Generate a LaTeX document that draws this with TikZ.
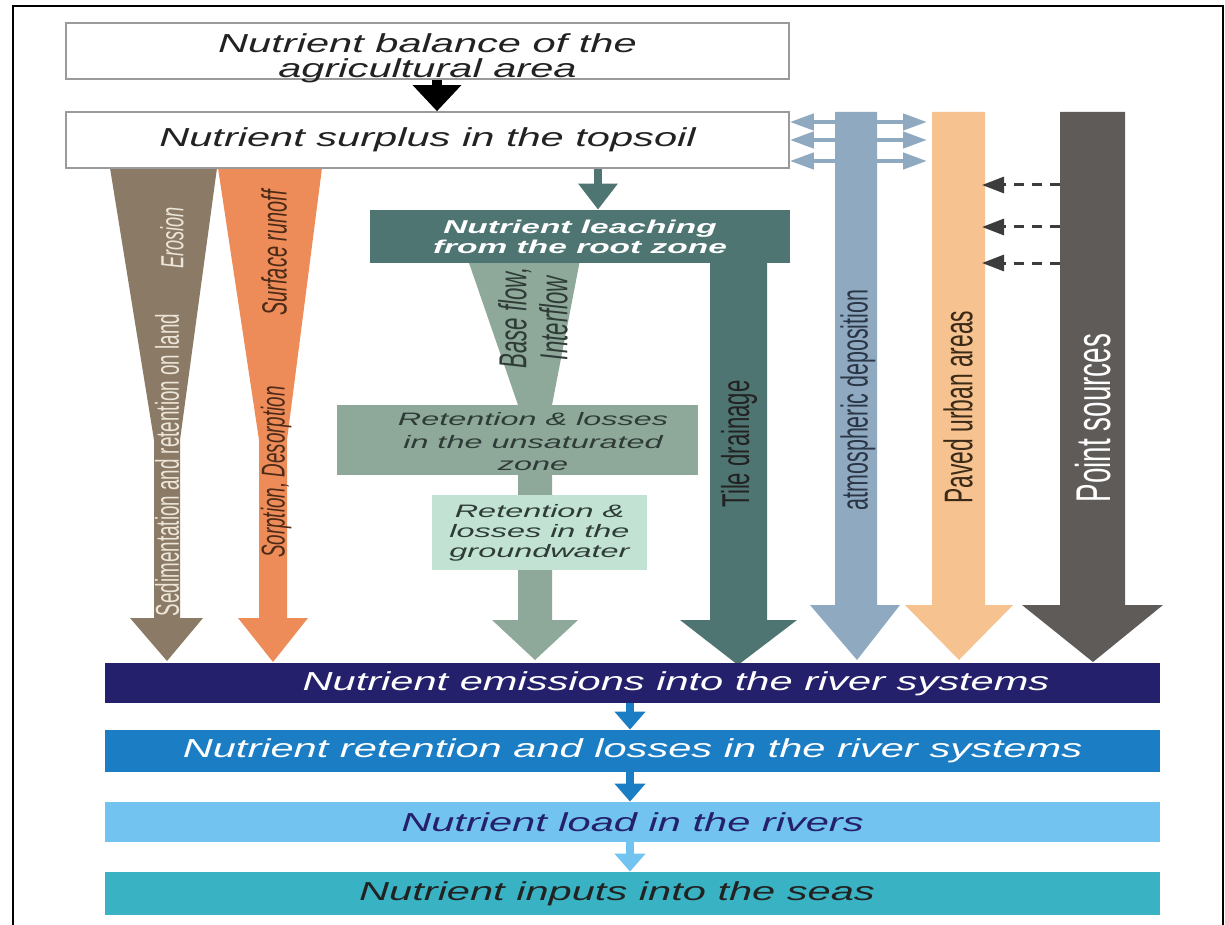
\documentclass[tikz,border=0pt]{standalone}
\usepackage{fontspec}
\setmainfont{Liberation Sans}
\newfontfamily\boxfont[FakeStretch=1.6]{Liberation Sans}
\newfontfamily\midfont[FakeStretch=1.8]{Liberation Sans}
\newfontfamily\rotfont[FakeStretch=0.57]{Liberation Sans}
\usetikzlibrary{arrows.meta}
\definecolor{boxgrey}{HTML}{9A9A9A}
\definecolor{erosbrown}{HTML}{8A7A66}
\definecolor{erostext}{HTML}{EDE6D8}
\definecolor{runorange}{HTML}{EE8C59}
\definecolor{runtext}{HTML}{4B2A17}
\definecolor{leachteal}{HTML}{4E7571}
\definecolor{baseflow}{HTML}{8EA89A}
\definecolor{basetext}{HTML}{2E3B37}
\definecolor{gwmint}{HTML}{C2E3D3}
\definecolor{atmblue}{HTML}{8FAAC0}
\definecolor{atmtext}{HTML}{2A3545}
\definecolor{pavedorange}{HTML}{F6C28F}
\definecolor{pavedtext}{HTML}{3B2A18}
\definecolor{pointgrey}{HTML}{5F5B59}
\definecolor{emisnavy}{HTML}{24206B}
\definecolor{retblue}{HTML}{1B7DC4}
\definecolor{loadblue}{HTML}{72C3EF}
\definecolor{seasteal}{HTML}{39B3C3}
\definecolor{dashgrey}{HTML}{3C3C3C}
\definecolor{darktext}{HTML}{222222}

\begin{document}
\begin{tikzpicture}[x=0.5pt,y=-0.5pt,
  wbox/.style={draw=boxgrey, fill=white, line width=0.8pt, inner sep=1pt, align=center,
    minimum width=361.5pt, minimum height=28pt, text=darktext,
    font=\boxfont\itshape\fontsize{13}{12.5}\selectfont},
  rowbox/.style={minimum width=527.5pt, inner sep=1pt,
    font=\boxfont\itshape\fontsize{13}{12}\selectfont},
  midbox/.style={inner sep=1pt, align=center},
  rot/.style={rotate=90, inner sep=0pt, align=center},
  flowarr/.style={line width=4pt, -{Triangle[width=15pt,length=9pt]}},
  sidearr/.style={atmblue, line width=2.2pt, -{Triangle[width=8pt,length=12pt]}},
  pointarr/.style={dashgrey, line width=1.5pt, dash pattern=on 5pt off 4pt,
    -{Triangle[width=8pt,length=11pt]}}]
\useasboundingbox (0,0) rectangle (1225,925);

% frame
\draw[line width=1pt] (13,925) -- (13,6) -- (1223,6) -- (1223,925);

% big arrows
\fill[erosbrown] (110,168) -- (217,168) -- (180,440) -- (180,618) -- (203,618) -- (167,661) -- (130,618) -- (154,618) -- (154,440) -- cycle;
\fill[runorange] (218,168) -- (322,168) -- (287,440) -- (287,618) -- (308,618) -- (273,662) -- (238,618) -- (259,618) -- (259,440) -- cycle;
\fill[baseflow] (468,260) -- (580,260) -- (552,405) -- (552,620) -- (578,620) -- (535,660) -- (492,620) -- (518,620) -- (518,405) -- cycle;
\fill[leachteal] (710,255) -- (767,255) -- (767,620) -- (797,620) -- (738,665) -- (680,620) -- (710,620) -- cycle;
\fill[atmblue] (835,112) -- (877,112) -- (877,605) -- (900,605) -- (857,660) -- (810,605) -- (835,605) -- cycle;
\fill[pavedorange] (932,112) -- (985,112) -- (985,605) -- (1013,605) -- (959,660) -- (905,605) -- (932,605) -- cycle;
\fill[pointgrey] (1060,112) -- (1125,112) -- (1125,605) -- (1163,605) -- (1093,662) -- (1022,605) -- (1060,605) -- cycle;

% boxes
\node[wbox] (bal) at (427.5,51) {};
\node[wbox, draw=none, fill=none, minimum width=0pt, minimum height=0pt] (baltxt) at (427.5,58) {Nutrient balance of the\\agricultural area};
\node[wbox] (surp) at (427.5,140) {Nutrient surplus in the topsoil};
\node[midbox, fill=leachteal, minimum width=210pt, minimum height=26.5pt, text=white,
  font=\midfont\bfseries\itshape\fontsize{9.3}{10}\selectfont] (leach) at (580,236.5)
  {Nutrient leaching\\from the root zone};
\node[midbox, fill=baseflow, minimum width=180.5pt, minimum height=35pt] (unsat) at (517.5,440) {};
\node[midbox, text=basetext, font=\midfont\itshape\fontsize{9}{11.25}\selectfont] (unsattxt) at (533,442)
  {Retention \& losses\\in the unsaturated\\zone};
\node[midbox, fill=gwmint, minimum width=107.5pt, minimum height=37.5pt, text=basetext,
  font=\midfont\itshape\fontsize{9}{10}\selectfont] (gw) at (539.5,532.5)
  {Retention \&\\losses in the\\groundwater};

\node[rowbox, fill=emisnavy, minimum height=20pt] (emis) at (632.5,683) {};
\node[rowbox, minimum width=0pt, text=white] (emistxt) at (676,684) {Nutrient emissions into the river systems};
\node[rowbox, fill=retblue, minimum height=21pt, text=white] (ret) at (632.5,751) {Nutrient retention and losses in the river systems};
\node[rowbox, fill=loadblue, minimum height=20pt, text=emisnavy] (load) at (632.5,822) {Nutrient load in the rivers};
\node[rowbox, fill=seasteal, minimum height=21.5pt] (seas) at (632.5,893.5) {};
\node[rowbox, minimum width=0pt, text=darktext] (seastxt) at (617,894) {Nutrient inputs into the seas};

% labels on the arrows
\node[rot, text=erostext, font=\rotfont\itshape\fontsize{16}{16}\selectfont] (eroslbl) at (172,238) {Erosion};
\node[rot, text=erostext, font=\rotfont\fontsize{16.5}{16.5}\selectfont] (sedlbl) at (167,465) {Sedimentation and retention on land};
\node[rot, text=runtext, font=\rotfont\itshape\fontsize{17.5}{17.5}\selectfont] (runlbl) at (274,253) {Surface runoff};
\node[rot, text=runtext, font=\rotfont\itshape\fontsize{16.5}{16.5}\selectfont] (sorplbl) at (276,472) {Sorption, Desorption};
\node[rot, text=basetext, font=\rotfont\itshape\fontsize{19.5}{20.5}\selectfont] (baselbl) at (533,318) {Base flow,\\Interflow};
\node[rot, text=darktext, font=\rotfont\fontsize{19.4}{19.4}\selectfont] (tilelbl) at (739,444) {Tile drainage};
\node[rot, text=atmtext, font=\rotfont\fontsize{18.8}{18.8}\selectfont] (atmlbl) at (858,400) {atmospheric deposition};
\node[rot, text=pavedtext, font=\rotfont\fontsize{20}{20}\selectfont] (pavlbl) at (958,407) {Paved urban areas};
\node[rot, text=white, font=\rotfont\fontsize{24.4}{24.4}\selectfont] (ptlbl) at (1093,418) {Point sources};

% connectors
\coordinate (balx) at (437,0);
\coordinate (leachx) at (598,0);
\coordinate (rowx) at (630,0);
\coordinate (atmW) at (835,112);
\coordinate (atmE) at (877,112);
\coordinate (pavW) at (932,112);
\coordinate (pavE) at (985,112);
\coordinate (ptW) at (1060,112);

\draw[line width=5pt, -{Triangle[width=23.5pt,length=13pt]}] (bal.south -| balx) -- (surp.north -| balx);
\draw[leachteal, line width=4pt, -{Triangle[width=19pt,length=13pt]}] (surp.south -| leachx) -- (leach.north -| leachx);

\draw[flowarr, retblue] (emis.south -| rowx) -- (ret.north -| rowx);
\draw[flowarr, retblue] (ret.south -| rowx) -- (load.north -| rowx);
\draw[flowarr, loadblue] (load.south -| rowx) -- (seas.north -| rowx);

\foreach \y in {122,140,161} {
  \draw[sidearr] (atmW |- 0,\y) -- (surp.east |- 0,\y);
  \draw[sidearr, shorten >=2.5pt] (atmE |- 0,\y) -- (pavW |- 0,\y);
}
\foreach \y in {185,227,263} {
  \draw[pointarr, shorten >=-1.5pt] (ptW |- 0,\y) -- (pavE |- 0,\y);
}
\end{tikzpicture}
\end{document}
